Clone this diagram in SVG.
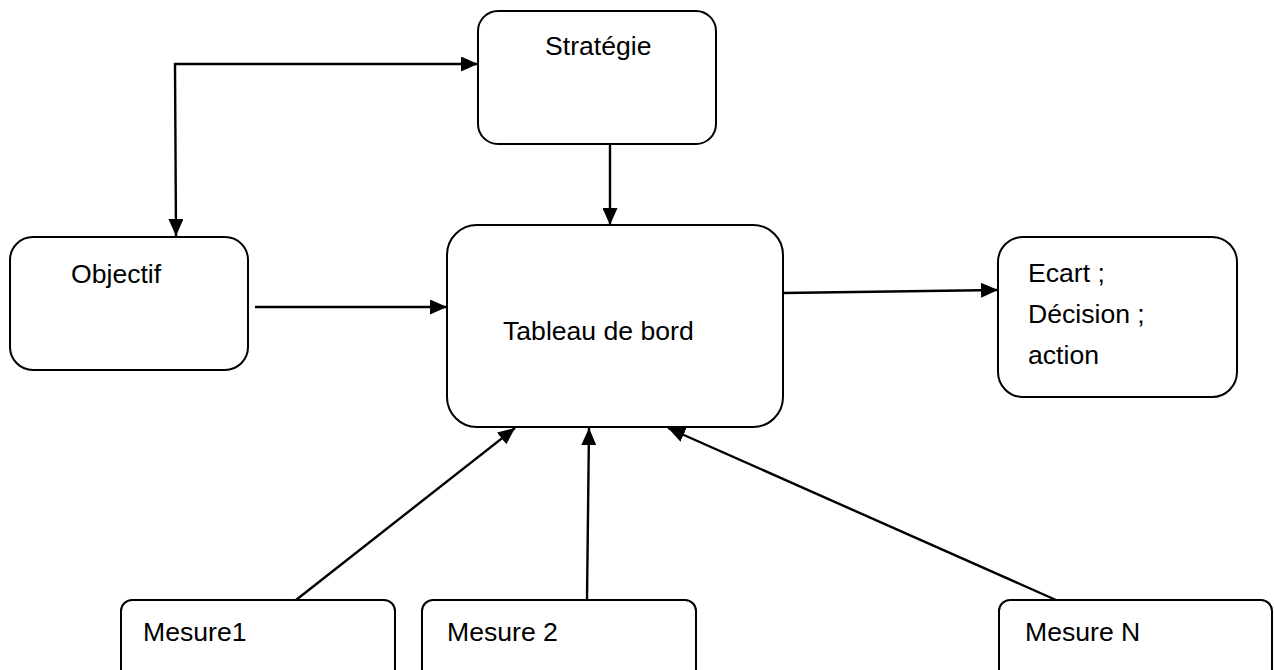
<svg xmlns="http://www.w3.org/2000/svg" width="1274" height="670" viewBox="0 0 1274 670">
<style>
.box{fill:#fff;stroke:#000;stroke-width:2}
.lbl{font-family:"Liberation Sans",Arial,sans-serif;font-size:26.6px;fill:#000}
.con{fill:none;stroke:#000;stroke-width:2.4}
</style>
<defs>
<marker id="ah" markerUnits="userSpaceOnUse" markerWidth="17" markerHeight="15" refX="17" refY="7.5" orient="auto-start-reverse">
<path d="M0,0 L17,7.5 L0,15 z" fill="#000"/>
</marker>
</defs>
<rect width="1274" height="670" fill="#fff"/>
<g id="strategie"><rect class="box" x="478" y="11" width="238" height="133" rx="20"/><text class="lbl" x="545" y="55">Stratégie</text></g>
<g id="objectif"><rect class="box" x="10" y="237" width="238" height="133" rx="23"/><text class="lbl" x="71" y="283">Objectif</text></g>
<g id="tableau"><rect class="box" x="447" y="225" width="336" height="202" rx="30"/><text class="lbl" x="503" y="340">Tableau de bord</text></g>
<g id="ecart"><rect class="box" x="998" y="237" width="239" height="160" rx="25"/><text class="lbl" x="1028" y="282">Ecart ;</text><text class="lbl" x="1028" y="323">Décision ;</text><text class="lbl" x="1028" y="364">action</text></g>
<g id="mesure1"><rect class="box" x="121" y="600" width="274" height="90" rx="11"/><text class="lbl" x="143" y="641">Mesure1</text></g>
<g id="mesure2"><rect class="box" x="422" y="600" width="274" height="90" rx="11"/><text class="lbl" x="447" y="641">Mesure 2</text></g>
<g id="mesureN"><rect class="box" x="999" y="600" width="273" height="90" rx="11"/><text class="lbl" x="1025" y="641">Mesure N</text></g>
<g id="connectors">
<path class="con" d="M176,236 L175,64 L478,64" marker-start="url(#ah)" marker-end="url(#ah)"/>
<path class="con" d="M610,144 L610,225" marker-end="url(#ah)"/>
<path class="con" d="M255,307 L447,307" marker-end="url(#ah)"/>
<path class="con" d="M783,293 L998,290" marker-end="url(#ah)"/>
<path class="con" d="M296,600 L515,428" marker-end="url(#ah)"/>
<path class="con" d="M587,600 L589,428" marker-end="url(#ah)"/>
<path class="con" d="M1056,600 L668,428" marker-end="url(#ah)"/>
</g>
</svg>
